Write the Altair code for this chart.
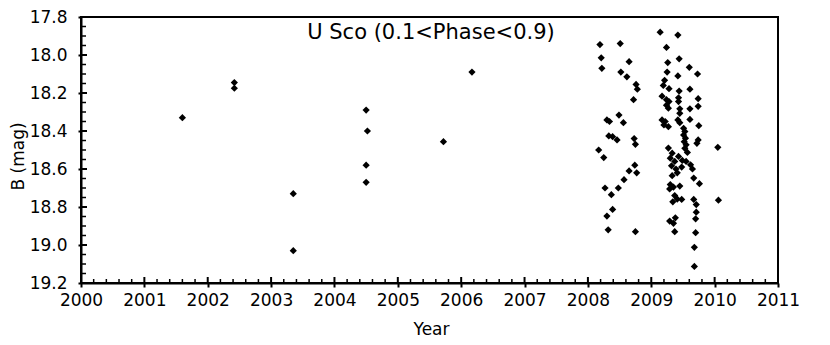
import altair as alt
import pandas as pd

# ---- data ----
early_years = [2001.60, 2002.42, 2002.42, 2003.35, 2003.35, 2004.50, 2004.52, 2004.50, 2004.50, 2005.72, 2006.17]
early_mags = [18.33, 18.145, 18.175, 18.73, 19.03, 18.29, 18.40, 18.58, 18.67, 18.456, 18.09]

y2008_years = [2008.19, 2008.51, 2008.21, 2008.65, 2008.22, 2008.52, 2008.615, 2008.76, 2008.78, 2008.72,
               2008.30, 2008.34, 2008.49, 2008.56, 2008.33, 2008.39, 2008.46, 2008.73, 2008.75, 2008.17,
               2008.25, 2008.74, 2008.65, 2008.77, 2008.57, 2008.48, 2008.27, 2008.37, 2008.39, 2008.30,
               2008.32, 2008.75]
y2008_mags = [17.945, 17.94, 18.015, 18.035, 18.07, 18.09, 18.115, 18.155, 18.18, 18.235,
              18.342, 18.35, 18.316, 18.356, 18.426, 18.43, 18.447, 18.44, 18.47, 18.50,
              18.54, 18.58, 18.61, 18.62, 18.656, 18.70, 18.70, 18.735, 18.813, 18.848,
              18.92, 18.93]

y2009_years = [2009.14, 2009.42, 2009.24, 2009.44, 2009.26, 2009.60, 2009.25, 2009.73, 2009.42, 2009.21,
               2009.19, 2009.28, 2009.61, 2009.44, 2009.17, 2009.24, 2009.28, 2009.24, 2009.27, 2009.43,
               2009.43, 2009.74, 2009.45, 2009.61, 2009.74, 2009.45, 2009.17, 2009.22, 2009.20, 2009.27,
               2009.42, 2009.45, 2009.61, 2009.75, 2009.51, 2009.53, 2009.51, 2009.54, 2009.52, 2009.55,
               2009.53, 2009.57, 2009.74, 2009.72, 2009.27, 2010.05, 2009.33, 2009.30, 2009.37, 2009.43,
               2009.49, 2009.55, 2009.62, 2009.65, 2009.32, 2009.39, 2009.48, 2009.41, 2009.33, 2009.67,
               2009.76, 2009.30, 2009.35, 2009.45, 2009.29, 2009.37, 2009.41, 2009.34, 2009.48, 2009.67,
               2009.71, 2010.06, 2009.71, 2009.38, 2009.29, 2009.35, 2009.70, 2009.37, 2009.70, 2009.68,
               2009.68]
y2009_mags = [17.88, 17.895, 17.96, 18.02, 18.04, 18.065, 18.09, 18.10, 18.11, 18.133,
              18.16, 18.177, 18.18, 18.19, 18.217, 18.235, 18.245, 18.264, 18.28, 18.225,
              18.245, 18.23, 18.283, 18.283, 18.27, 18.307, 18.342, 18.35, 18.368, 18.377,
              18.342, 18.356, 18.339, 18.372, 18.386, 18.403, 18.421, 18.438, 18.456, 18.473,
              18.491, 18.513, 18.447, 18.465, 18.49, 18.486, 18.517, 18.543, 18.56, 18.534,
              18.555, 18.56, 18.578, 18.60, 18.583, 18.60, 18.59, 18.62, 18.635, 18.648,
              18.677, 18.682, 18.695, 18.69, 18.705, 18.74, 18.758, 18.773, 18.76, 18.76,
              18.787, 18.764, 18.827, 18.857, 18.874, 18.886, 18.862, 18.93, 18.935, 19.012,
              19.113]

x_major = list(range(2000, 2012))
x_minor = [round(2000 + i * 0.2, 1) for i in range(56) if i % 5 != 0]
y_major = [17.8, 18.0, 18.2, 18.4, 18.6, 18.8, 19.0, 19.2]
y_minor = [round(17.8 + i * 0.05, 2) for i in range(29) if i % 4 != 0]

title_text = "U Sco (0.1<Phase<0.9)"

W, H = 697, 266
FONT = "DejaVu Sans"

pts = pd.DataFrame({
    "year": early_years + y2008_years + y2009_years,
    "mag": early_mags + y2008_mags + y2009_mags,
})

xscale = alt.Scale(domain=[2000, 2011], nice=False, zero=False)
yscale = alt.Scale(domain=[17.8, 19.2], nice=False, zero=False, reverse=True)

xaxis = alt.Axis(values=x_major, format="d", title="Year", grid=False,
                 tickSize=4, tickWidth=2, tickColor="black",
                 domainWidth=2, domainColor="black",
                 labelFont=FONT, labelFontSize=17, labelColor="black", labelPadding=5,
                 labelFlush=False, labelOverlap=False,
                 titleFont=FONT, titleFontSize=17, titleFontWeight="normal", titleColor="black",
                 titleX=350, titleY=51, titleBaseline="alphabetic", titleAlign="center")
yaxis = alt.Axis(values=y_major, format=".1f", title="B (mag)", grid=False,
                 tickSize=3, tickWidth=2, tickColor="black",
                 domainWidth=2, domainColor="black",
                 labelFont=FONT, labelFontSize=17, labelColor="black", labelPadding=11,
                 labelFlush=False, labelOverlap=False,
                 titleFont=FONT, titleFontSize=17, titleFontWeight="normal", titleColor="black",
                 titleX=-58, titleY=139, titleBaseline="alphabetic", titleAlign="center",
                 titleAngle=270)

points = alt.Chart(pts).mark_point(shape="diamond", filled=True, color="black", size=52, opacity=1).encode(
    x=alt.X("year:Q", scale=xscale, axis=xaxis),
    y=alt.Y("mag:Q", scale=yscale, axis=yaxis),
)

xminor_df = pd.DataFrame({"v": x_minor})
xmajor_df = pd.DataFrame({"v": x_major})
yminor_df = pd.DataFrame({"v": y_minor})
ymajor_df = pd.DataFrame({"v": y_major})

xmin_ticks = alt.Chart(xminor_df).mark_rule(color="black", strokeWidth=1.5).encode(
    x=alt.X("v:Q", scale=xscale, axis=xaxis), y=alt.value(H), y2=alt.value(H - 4))
xmaj_ticks = alt.Chart(xmajor_df).mark_rule(color="black", strokeWidth=2).encode(
    x=alt.X("v:Q", scale=xscale, axis=xaxis), y=alt.value(H), y2=alt.value(H - 6))
ymin_ticks = alt.Chart(yminor_df).mark_rule(color="black", strokeWidth=1.5).encode(
    y=alt.Y("v:Q", scale=yscale, axis=yaxis), x=alt.value(0), x2=alt.value(5))
ymaj_ticks = alt.Chart(ymajor_df).mark_rule(color="black", strokeWidth=2).encode(
    y=alt.Y("v:Q", scale=yscale, axis=yaxis), x=alt.value(0), x2=alt.value(6))

title = alt.Chart(pd.DataFrame({"t": [title_text]})).mark_text(
    font=FONT, fontSize=21, color="black", align="center", baseline="middle").encode(
    text="t:N", x=alt.value(350), y=alt.value(16))

chart = alt.layer(points, xmin_ticks, xmaj_ticks, ymin_ticks, ymaj_ticks, title).properties(
    width=W, height=H,
    autosize=alt.AutoSizeParams(type="none"),
    padding={"left": 73, "top": 9, "right": 40, "bottom": 62},
).configure(
    background="white",
    view=alt.ViewConfig(stroke="black", strokeWidth=2),
)

chart.save("out.html", embed_options={"renderer": "svg", "actions": False})
